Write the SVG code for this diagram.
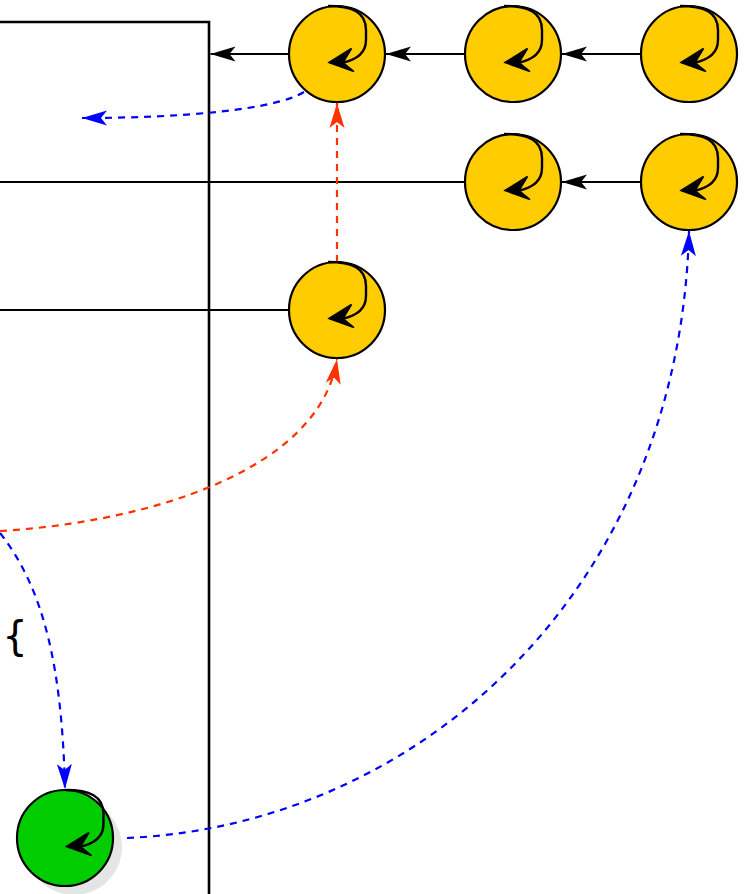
<svg xmlns="http://www.w3.org/2000/svg" width="744" height="894" viewBox="0 0 744 894">
<style>
.n{stroke:#000;stroke-width:2.2}
.y{fill:#ffcc00}
.g{fill:#00cc00}
.c{fill:none;stroke-width:2.2}
.k{stroke:#000}
.b{stroke:#0000ff;stroke-dasharray:7 6}
.r{stroke:#ff3300;stroke-dasharray:7 6}
.l{fill:none;stroke:#000;stroke-width:2.4}
</style>
<defs>
<marker id="mk" markerUnits="userSpaceOnUse" markerWidth="28" markerHeight="18" refX="25" refY="9" orient="auto"><path d="M25 9L0 1.500L6 9L0 16.500Z" fill="#000"/></marker>
<marker id="mb" markerUnits="userSpaceOnUse" markerWidth="28" markerHeight="18" refX="25" refY="9" orient="auto"><path d="M25 9L0 1.500L6 9L0 16.500Z" fill="#0000ff"/></marker>
<marker id="mr" markerUnits="userSpaceOnUse" markerWidth="28" markerHeight="18" refX="25" refY="9" orient="auto"><path d="M25 9L0 1.500L6 9L0 16.500Z" fill="#ff3300"/></marker>
<g id="loop"><path class="l" d="M-9 -48C15 -48 29 -42 29 -24V-14C29 -2 20 6 4 9"/><path d="M-8 8.500L14.500 -5.500L6 8.500L17 17.500Z" fill="#000" stroke="#000" stroke-width="1.500"/></g>
</defs>
<g id="frame"><path d="M0 22H209V894" fill="none" stroke="#000" stroke-width="2.600"/></g>
<g id="connectors">
<path class="c k" d="M289 54H210.500" marker-end="url(#mk)"/>
<path class="c k" d="M465 54H386" marker-end="url(#mk)"/>
<path class="c k" d="M641 54H562" marker-end="url(#mk)"/>
<path class="c k" d="M641 182H562" marker-end="url(#mk)"/>
<path class="c k" d="M465 182H0"/>
<path class="c k" d="M289 310H0"/>
<path class="c r" d="M337 262V103" marker-end="url(#mr)"/>
<path class="c r" d="M0 531C150 522 320 470 337 359" marker-end="url(#mr)"/>
<path class="c b" d="M304 92C275 110 180 118 82 118" marker-end="url(#mb)"/>
<path class="c b" d="M0 533C45 590 62 670 65 789" marker-end="url(#mb)"/>
<path class="c b" d="M127 838C420 825 680 590 689 231" marker-end="url(#mb)"/>
</g>
<g id="node1"><circle class="n y" cx="337" cy="54" r="48"/><use href="#loop" x="337" y="54"/></g>
<g id="node2"><circle class="n y" cx="513" cy="54" r="48"/><use href="#loop" x="513" y="54"/></g>
<g id="node3"><circle class="n y" cx="689" cy="54" r="48"/><use href="#loop" x="689" y="54"/></g>
<g id="node4"><circle class="n y" cx="513" cy="182" r="48"/><use href="#loop" x="513" y="182"/></g>
<g id="node5"><circle class="n y" cx="689" cy="182" r="48"/><use href="#loop" x="689" y="182"/></g>
<g id="node6"><circle class="n y" cx="337" cy="310" r="48"/><use href="#loop" x="337" y="310"/></g>
<g id="node7"><circle cx="74" cy="847" r="48" fill="#000" fill-opacity="0.1"/><circle class="n g" cx="65" cy="838" r="48"/><use href="#loop" x="74.500" y="838"/></g>
<g id="label"><text x="15" y="650" font-family="'DejaVu Sans',sans-serif" font-size="40" text-anchor="middle" fill="#000">{</text></g>
</svg>
